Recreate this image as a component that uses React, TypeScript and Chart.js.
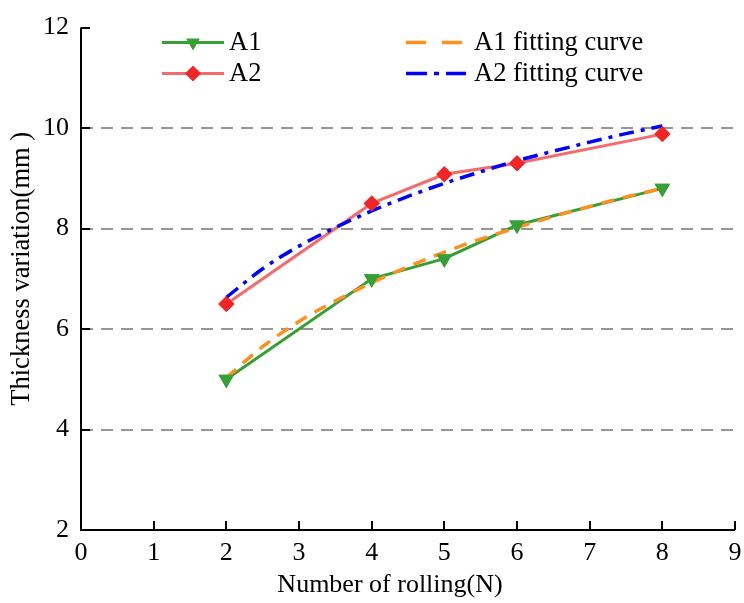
import React, { useEffect, useRef } from 'react';
import { Chart, registerables } from 'chart.js';

Chart.register(...registerables);

// ---- data ----
const rolls = [2, 4, 5, 6, 8];
const a1Values = [5.0, 7.0, 7.4, 8.07, 8.8];
const a2Values = [6.5, 8.5, 9.08, 9.3, 9.88];
const fitX = [2, 2.5, 3, 3.5, 4, 4.5, 5, 5.5, 6, 6.5, 7, 7.5, 8];
const a1Fit = [5.03, 5.65, 6.15, 6.56, 6.92, 7.24, 7.53, 7.79, 8.02, 8.24, 8.44, 8.63, 8.8];
const a2Fit = [6.63, 7.2, 7.65, 8.02, 8.35, 8.64, 8.9, 9.13, 9.35, 9.54, 9.72, 9.89, 10.04];
const xTickValues = [0, 1, 2, 3, 4, 5, 6, 7, 8, 9];
const yTickValues = [2, 4, 6, 8, 10, 12];
const seriesNames = ['A1', 'A2', 'A1 fitting curve', 'A2 fitting curve'];
const xTitle = 'Number of rolling(N)';
const yTitle = 'Thickness variation(mm )';

const FONT = "'Liberation Serif', 'Times New Roman', serif";
const GREEN = '#35a035';
const RED_LINE = 'rgba(242,96,96,0.92)';
const RED_PT = '#f42424';
const ORANGE = '#ff8f1f';
const BLUE = '#0000ff';

function drawTriDown(ctx: CanvasRenderingContext2D, x: number, y: number, r: number, color: string) {
  ctx.beginPath();
  for (let k = 0; k < 3; k++) {
    const a = Math.PI + (k * 2 * Math.PI) / 3;
    const px = x + Math.sin(a) * r;
    const py = y - Math.cos(a) * r;
    if (k === 0) ctx.moveTo(px, py);
    else ctx.lineTo(px, py);
  }
  ctx.closePath();
  ctx.fillStyle = color;
  ctx.fill();
}

function drawDiamond(ctx: CanvasRenderingContext2D, x: number, y: number, r: number, color: string) {
  ctx.beginPath();
  ctx.moveTo(x, y - r);
  ctx.lineTo(x + r, y);
  ctx.lineTo(x, y + r);
  ctx.lineTo(x - r, y);
  ctx.closePath();
  ctx.fillStyle = color;
  ctx.fill();
}

const axesPlugin = {
  id: 'customAxes',
  beforeDatasetsDraw(chart: any) {
    const { ctx, chartArea } = chart;
    const xs = chart.scales.x;
    const ys = chart.scales.y;
    ctx.save();
    // dashed grid
    ctx.strokeStyle = '#969696';
    ctx.lineWidth = 2;
    ctx.setLineDash([12, 8]);
    yTickValues.forEach((v) => {
      if (v === ys.min || v === ys.max) return;
      const py = Math.round(ys.getPixelForValue(v));
      ctx.beginPath();
      ctx.moveTo(chartArea.left, py);
      ctx.lineTo(chartArea.right, py);
      ctx.stroke();
    });
    ctx.setLineDash([]);
    // axis lines
    ctx.strokeStyle = '#000';
    ctx.lineWidth = 2;
    ctx.beginPath();
    ctx.moveTo(chartArea.left, chartArea.top);
    ctx.lineTo(chartArea.left, chartArea.bottom);
    ctx.lineTo(chartArea.right, chartArea.bottom);
    ctx.stroke();
    // inward ticks
    const tl = 9;
    yTickValues.forEach((v) => {
      const py = Math.round(ys.getPixelForValue(v));
      ctx.beginPath();
      ctx.moveTo(chartArea.left, py);
      ctx.lineTo(chartArea.left + tl, py);
      ctx.stroke();
    });
    xTickValues.forEach((v) => {
      const px = Math.round(xs.getPixelForValue(v));
      ctx.beginPath();
      ctx.moveTo(px, chartArea.bottom);
      ctx.lineTo(px, chartArea.bottom - tl);
      ctx.stroke();
    });
    ctx.restore();
  },
  afterDatasetsDraw(chart: any) {
    // markers on top of all lines
    const { ctx, chartArea } = chart;
    [0, 1].forEach((i) => {
      const meta = chart.getDatasetMeta(i);
      meta.data.forEach((p: any) => p.draw(ctx, chartArea));
    });
  },
  afterDraw(chart: any) {
    const { ctx, chartArea } = chart;
    const L = chartArea.left;
    const T = chartArea.top;
    ctx.save();
    // legend
    const rows = [T + 15, T + 46];
    const c1s = L + 81, c1e = L + 143, c1t = L + 148;
    const c2s = L + 325, c2e = L + 385, c2t = L + 393;
    ctx.lineWidth = 3;
    // A1
    ctx.strokeStyle = GREEN;
    ctx.beginPath(); ctx.moveTo(c1s, rows[0]); ctx.lineTo(c1e, rows[0]); ctx.stroke();
    drawTriDown(ctx, (c1s + c1e) / 2, rows[0], 8, GREEN);
    // A2
    ctx.strokeStyle = RED_LINE;
    ctx.beginPath(); ctx.moveTo(c1s, rows[1]); ctx.lineTo(c1e, rows[1]); ctx.stroke();
    drawDiamond(ctx, (c1s + c1e) / 2, rows[1], 8, RED_PT);
    // A1 fit
    ctx.lineWidth = 3.5;
    ctx.strokeStyle = ORANGE;
    ctx.setLineDash([20, 16]);
    ctx.beginPath(); ctx.moveTo(c2s, rows[0]); ctx.lineTo(c2e - 2, rows[0]); ctx.stroke();
    // A2 fit
    ctx.strokeStyle = BLUE;
    ctx.setLineDash([21, 7, 5, 7]);
    ctx.beginPath(); ctx.moveTo(c2s, rows[1]); ctx.lineTo(c2e, rows[1]); ctx.stroke();
    ctx.setLineDash([]);
    ctx.fillStyle = '#000';
    ctx.font = `26.5px ${FONT}`;
    ctx.textBaseline = 'middle';
    ctx.textAlign = 'left';
    ctx.fillText(seriesNames[0], c1t, rows[0]);
    ctx.fillText(seriesNames[1], c1t, rows[1]);
    ctx.fillText(seriesNames[2], c2t, rows[0]);
    ctx.fillText(seriesNames[3], c2t, rows[1]);
    // axis titles
    ctx.font = `26px ${FONT}`;
    ctx.textAlign = 'center';
    ctx.fillText(xTitle, (chartArea.left + chartArea.right) / 2 - 18, chartArea.bottom + 55);
    ctx.font = `26.5px ${FONT}`;
    ctx.translate(22, (chartArea.top + chartArea.bottom) / 2 - 10);
    ctx.rotate(-Math.PI / 2);
    ctx.fillText(yTitle, 0, 0);
    ctx.restore();
  },
};

export default function App() {
  const ref = useRef<HTMLCanvasElement | null>(null);
  useEffect(() => {
    if (!ref.current) return;
    const chart = new Chart(ref.current, {
      type: 'line',
      data: {
        datasets: [
          {
            label: seriesNames[0],
            data: rolls.map((x, i) => ({ x, y: a1Values[i] })),
            borderColor: GREEN,
            backgroundColor: GREEN,
            borderWidth: 3,
            pointStyle: 'triangle',
            rotation: 180,
            pointRadius: 9,
            pointBackgroundColor: GREEN,
            pointBorderWidth: 0,
            order: 4,
          },
          {
            label: seriesNames[1],
            data: rolls.map((x, i) => ({ x, y: a2Values[i] })),
            borderColor: RED_LINE,
            backgroundColor: RED_PT,
            borderWidth: 3,
            pointStyle: 'rectRot',
            pointRadius: 8,
            pointBackgroundColor: RED_PT,
            pointBorderWidth: 0,
            order: 2,
          },
          {
            label: seriesNames[2],
            data: fitX.map((x, i) => ({ x, y: a1Fit[i] })),
            borderColor: ORANGE,
            borderWidth: 3.5,
            borderDash: [13, 9],
            pointRadius: 0,
            cubicInterpolationMode: 'monotone',
            order: 3,
          },
          {
            label: seriesNames[3],
            data: fitX.map((x, i) => ({ x, y: a2Fit[i] })),
            borderColor: BLUE,
            borderWidth: 3.5,
            borderDash: [15, 7, 4, 7],
            pointRadius: 0,
            cubicInterpolationMode: 'monotone',
            order: 1,
          },
        ] as any,
      },
      options: {
        responsive: false,
        animation: false,
        devicePixelRatio: 1,
        layout: { padding: { top: 24, right: 0, left: 0, bottom: 0 } },
        plugins: { legend: { display: false }, tooltip: { enabled: false } },
        scales: {
          x: {
            type: 'linear',
            min: 0,
            max: 9,
            afterBuildTicks: (s: any) => {
              s.ticks = xTickValues.map((v) => ({ value: v }));
            },
            afterFit: (s: any) => {
              s.height = 73;
              s.paddingRight = 7;
              s.paddingLeft = 0;
            },
            ticks: { font: { family: FONT, size: 26 }, color: '#000', padding: 8, maxRotation: 0 },
            grid: { display: false, drawTicks: false },
            border: { display: false },
          },
          y: {
            type: 'linear',
            min: 2,
            max: 12,
            afterBuildTicks: (s: any) => {
              s.ticks = yTickValues.map((v) => ({ value: v }));
            },
            afterFit: (s: any) => {
              s.width = 81;
            },
            ticks: { font: { family: FONT, size: 26 }, color: '#000', padding: 12 },
            grid: { display: false, drawTicks: false },
            border: { display: false },
          },
        },
      },
      plugins: [axesPlugin],
    } as any);
    return () => chart.destroy();
  }, []);
  return (
    <div style={{ position: 'absolute', left: 0, top: 0, width: 744, height: 603, background: '#fff' }}>
      <canvas ref={ref} width={744} height={603} />
    </div>
  );
}
